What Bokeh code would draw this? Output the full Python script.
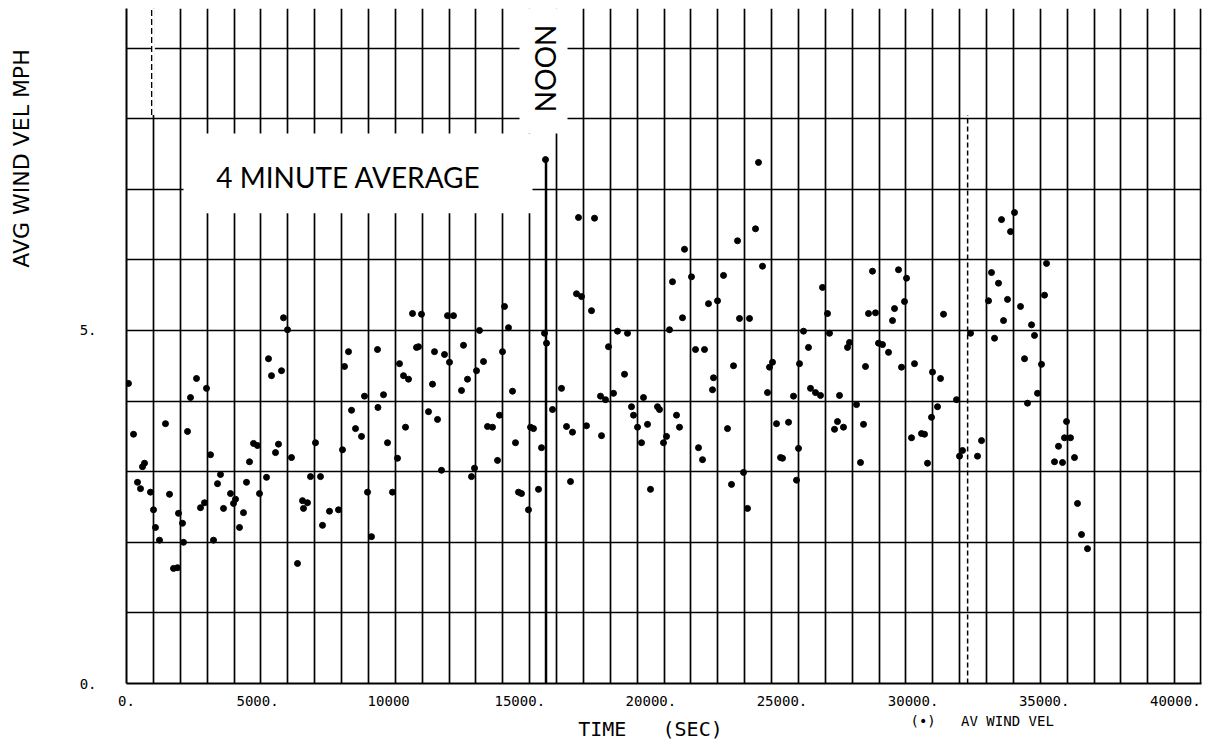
import math
from bokeh.plotting import figure
from bokeh.layouts import column, row
from bokeh.models import FixedTicker, Range1d, Span, Label, ColumnDataSource
from bokeh.core.properties import value
from bokeh.embed import file_html
from bokeh.resources import INLINE

# ---------------- data ----------------
time_s = [76, 267, 419, 534, 610, 687, 915, 1030, 1106, 1258,
          1487, 1640, 1793, 1945, 1983, 2136, 2174, 2327, 2441, 2670,
          2822, 2975, 3051, 3204, 3318, 3471, 3585, 3700, 3967, 4081,
          4157, 4310, 4462, 4577, 4691, 4844, 4996, 5072, 5340, 5416,
          5530, 5683, 5797, 5912, 5988, 6141, 6293, 6522, 6713, 6751,
          6903, 7018, 7208, 7399, 7475, 7742, 8086, 8238, 8315, 8467,
          8582, 8734, 8963, 9077, 9192, 9344, 9573, 9590, 9802, 9955,
          10145, 10336, 10412, 10565, 10641, 10755, 10908, 11061, 11137, 11251,
          11518, 11671, 11747, 11862, 12014, 12129, 12243, 12319, 12472, 12777,
          12853, 13006, 13158, 13273, 13349, 13463, 13616, 13769, 13959, 14150,
          14226, 14341, 14417, 14569, 14722, 14836, 14951, 15065, 15332, 15409,
          15523, 15714, 15828, 15943, 15981, 16019, 16248, 16591, 16782, 16934,
          17010, 17163, 17239, 17354, 17544, 17735, 17850, 18078, 18117, 18269,
          18383, 18574, 18727, 18994, 19108, 19261, 19337, 19490, 19642, 19718,
          19871, 19985, 20252, 20329, 20481, 20596, 20710, 20824, 20977, 21091,
          21206, 21282, 21549, 21702, 21816, 21969, 22045, 22197, 22350, 22388,
          22541, 22770, 22922, 23075, 23151, 23304, 23380, 23533, 23685, 23761,
          23990, 24104, 24257, 24448, 24524, 24638, 24791, 24944, 25020, 25249,
          25439, 25554, 25630, 25668, 25821, 26011, 26088, 26278, 26469, 26545,
          26736, 26812, 27003, 27117, 27194, 27346, 27499, 27575, 27842, 27995,
          28109, 28185, 28300, 28452, 28567, 28681, 28834, 29063, 29215, 29292,
          29444, 29559, 29673, 29749, 29940, 30054, 30321, 30436, 30550, 30703,
          30741, 30932, 31046, 31160, 31656, 31771, 31885, 32190, 32457, 32610,
          32877, 32991, 33106, 33258, 33373, 33449, 33601, 33716, 33868, 34097,
          34250, 34364, 34517, 34631, 34746, 34898, 35013, 35089, 35394, 35546,
          35699, 35775, 35852, 36004, 36156, 36271, 36424, 36652]

wind_mph = [4.25, 3.53, 2.85, 2.76, 3.07, 3.12, 2.71, 2.46, 2.21, 2.03,
            3.68, 2.68, 1.63, 1.64, 2.41, 2.27, 2.00, 3.57, 4.05, 4.32,
            2.49, 2.56, 4.18, 3.24, 2.03, 2.83, 2.96, 2.48, 2.69, 2.55,
            2.61, 2.21, 2.42, 2.85, 3.14, 3.40, 3.37, 2.69, 2.92, 4.60,
            4.36, 3.27, 3.39, 4.43, 5.18, 5.01, 3.20, 1.70, 2.59, 2.48,
            2.56, 2.93, 3.41, 2.93, 2.24, 2.44, 2.46, 3.31, 4.49, 4.70,
            3.87, 3.61, 3.50, 4.07, 2.71, 2.08, 4.73, 3.91, 4.09, 3.41,
            2.71, 3.19, 4.53, 4.36, 3.63, 4.31, 5.24, 4.76, 4.77, 5.23,
            3.85, 4.24, 4.70, 3.74, 3.02, 4.66, 5.21, 4.55, 5.21, 4.15,
            4.79, 4.31, 2.93, 3.05, 4.43, 5.00, 4.56, 3.64, 3.63, 3.16,
            3.80, 4.70, 5.34, 5.04, 4.14, 3.41, 2.71, 2.69, 2.46, 3.63,
            3.61, 2.75, 3.34, 4.96, 7.42, 4.82, 3.88, 4.18, 3.64, 2.86,
            3.56, 5.52, 6.60, 5.48, 3.65, 5.28, 6.59, 4.07, 3.51, 4.02,
            4.77, 4.11, 4.99, 4.38, 4.96, 3.92, 3.80, 3.63, 3.41, 4.05,
            3.67, 2.75, 3.92, 3.88, 3.41, 3.50, 5.01, 5.69, 3.80, 3.63,
            5.18, 6.15, 5.76, 4.73, 3.34, 3.17, 4.73, 5.38, 4.16, 4.33,
            5.42, 5.78, 3.61, 2.82, 4.50, 6.27, 5.17, 2.99, 2.48, 5.17,
            6.44, 7.38, 5.91, 4.12, 4.48, 4.55, 3.68, 3.20, 3.19, 3.70,
            4.07, 2.88, 3.33, 4.53, 4.99, 4.76, 4.18, 4.12, 4.08, 5.61,
            5.24, 4.96, 3.60, 3.71, 4.08, 3.63, 4.76, 4.83, 3.95, 3.13,
            3.67, 4.49, 5.24, 5.84, 5.25, 4.82, 4.80, 4.69, 5.14, 5.31,
            5.86, 4.48, 5.41, 5.74, 3.48, 4.53, 3.54, 3.53, 3.12, 3.77,
            4.41, 3.92, 4.32, 5.23, 4.02, 3.22, 3.30, 4.96, 3.22, 3.44,
            5.42, 5.82, 4.89, 5.67, 6.57, 5.14, 5.44, 6.40, 6.67, 5.34,
            4.60, 3.97, 5.08, 4.93, 4.11, 4.52, 5.50, 5.95, 3.14, 3.36,
            3.13, 3.48, 3.71, 3.48, 3.20, 2.55, 2.11, 1.91]

x_tick_values = [0, 5000, 10000, 15000, 20000, 25000, 30000, 35000, 40000]
x_tick_labels = ["0.", "5000.", "10000", "15000.", "20000.", "25000.",
                 "30000.", "35000.", "40000."]
y_tick_values = [0, 5]
y_tick_labels = ["0.", "5."]

NB = "\u00a0"
y_title = "AVG WIND VEL MPH"
x_title = "TIME" + NB * 3 + "(SEC)"
legend_text = "(\u2022)" + NB * 3 + "AV WIND VEL"

# ---------------- main figure ----------------
X_END = 41000
Y_END = 9.56
LEFT_W = 40
p = figure(width=1164, height=712, output_backend="svg", toolbar_location=None,
           x_range=Range1d(0, X_END), y_range=Range1d(0, Y_END),
           min_border_left=86, min_border_right=3, min_border_top=8,
           min_border_bottom=29)
p.outline_line_color = None
p.background_fill_color = "white"
p.border_fill_color = "white"

# graph paper grid
p.xgrid.ticker = FixedTicker(ticks=[i * 1025 for i in range(1, 40)])
p.ygrid.ticker = FixedTicker(ticks=list(range(1, 10)))
for g in (p.xgrid, p.ygrid):
    g.grid_line_color = "black"
    g.grid_line_width = 1.7
    g.grid_line_alpha = 1.0

# axes
for ax in (p.xaxis, p.yaxis):
    ax.axis_line_color = "black"
    ax.axis_line_width = 2
    ax.major_tick_line_color = None
    ax.minor_tick_line_color = None
    ax.major_label_text_font = "DejaVu Sans Mono"
    ax.major_label_text_font_size = "14px"
    ax.major_label_text_color = "black"
p.xaxis.ticker = FixedTicker(ticks=x_tick_values)
p.xaxis.major_label_overrides = {v: s for v, s in zip(x_tick_values, x_tick_labels)}
p.xaxis.major_label_standoff = 6
p.yaxis.ticker = FixedTicker(ticks=y_tick_values)
p.yaxis.major_label_overrides = {v: s for v, s in zip(y_tick_values, y_tick_labels)}
p.yaxis.major_label_standoff = 24

# right border
p.add_layout(Span(location=X_END - 30, dimension="height", line_color="black", line_width=2))

# white blanks for the annotations
p.quad(left=[2174, 14990], right=[15484, 16820], bottom=[6.66, 7.79], top=[7.79, 9.8],
       fill_color="white", line_color=None)

# first grid line is dash-dotted in its upper part
p.segment(x0=[1025], y0=[8.05], x1=[1025], y1=[9.8], line_color="white", line_width=3)
p.segment(x0=[960], y0=[8.05], x1=[960], y1=[9.8], line_color="black",
          line_width=1.3, line_dash="6 3")

# noon line and dashed line
p.segment(x0=[16000], y0=[0], x1=[16000], y1=[7.42], line_color="black", line_width=2.5)
p.segment(x0=[32080], y0=[0], x1=[32080], y1=[8.05], line_color="black",
          line_width=1.5, line_dash="5 3")

# data
src = ColumnDataSource(dict(t=time_s, v=wind_mph))
p.scatter("t", "v", source=src, size=6, color="black", marker="circle")

# texts inside the frame
p.add_layout(Label(x=8467, y=7.17, text="4 MINUTE AVERAGE", text_font="Lato",
                   text_font_size="28px", text_align="center", text_baseline="middle",
                   text_color="black"))
p.add_layout(Label(x=15981, y=8.71, text="NOON", text_font="Lato",
                   text_font_size="28px", text_align="center", text_baseline="middle",
                   angle=-math.pi / 2, text_color="black"))

# ---------------- strip below: axis title and legend ----------------
p2 = figure(width=1164, height=30, output_backend="svg", toolbar_location=None,
            x_range=p.x_range, y_range=Range1d(0, 30),
            min_border_left=86, min_border_right=3, min_border_top=0,
            min_border_bottom=0, x_axis_location=None, y_axis_location=None)
p2.outline_line_color = None
p2.grid.visible = False
p2.text(x=[19985], y=[14], text=[x_title], text_font=value("DejaVu Sans Mono"),
        text_font_size="20px", text_align="center", text_baseline="middle",
        text_color="black")
p2.text(x=[29902], y=[22], text=[legend_text], text_font=value("DejaVu Sans Mono"),
        text_font_size="14px", text_align="left", text_baseline="middle",
        text_color="black")

# ---------------- strip on the left: rotated y title ----------------
pl = figure(width=LEFT_W, height=742, output_backend="svg", toolbar_location=None,
            x_range=Range1d(0, LEFT_W), y_range=Range1d(0, 742),
            min_border_left=0, min_border_right=0, min_border_top=0,
            min_border_bottom=0, x_axis_location=None, y_axis_location=None)
pl.outline_line_color = None
pl.grid.visible = False
pl.text(x=[21], y=[584], text=[y_title], text_font=value("DejaVu Sans"),
        text_font_size="22px", text_align="center", text_baseline="middle",
        angle=math.pi / 2, text_color="black")

layout = row(pl, column(p, p2, spacing=0), spacing=0)
open("out.html", "w").write(file_html(layout, INLINE))
